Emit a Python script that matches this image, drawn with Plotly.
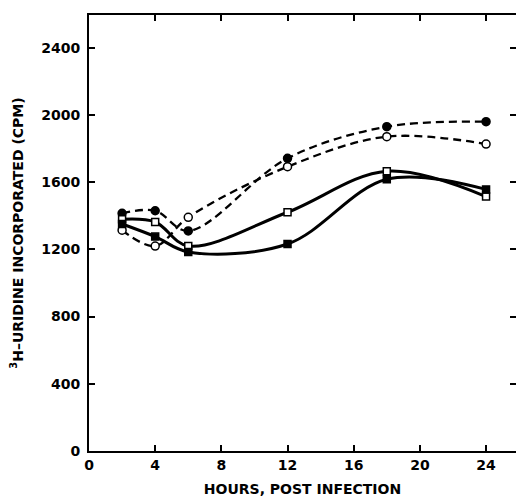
import plotly.graph_objects as go

hours = [2, 4, 6, 12, 18, 24]
filled_circle = [1415, 1430, 1310, 1742, 1930, 1960]
open_circle = [1314, 1220, 1391, 1692, 1871, 1827]
open_square = [1379, 1363, 1220, 1421, 1665, 1514]
filled_square = [1351, 1276, 1185, 1232, 1617, 1557]

x_ticks = [0, 4, 8, 12, 16, 20, 24]
y_ticks = [0, 400, 800, 1200, 1600, 2000, 2400]

FONT = "DejaVu Sans"

fig = go.Figure()

def add(y, dash, width, symbol, fill, size):
    fig.add_trace(go.Scatter(
        x=hours, y=y, mode="lines+markers",
        line=dict(color="black", width=width, dash=dash, shape="spline", smoothing=1.0),
        marker=dict(symbol=symbol, size=size, color=fill, line=dict(color="black", width=1.5)),
        showlegend=False,
    ))

add(filled_circle, "8px,5px", 2.3, "circle", "black", 8)
add(open_circle, "8px,5px", 2.3, "circle", "white", 8)
add(open_square, "solid", 3, "square", "white", 7)
add(filled_square, "solid", 3, "square", "black", 7)

# invisible trace on secondary y axis (right ticks)
fig.add_trace(go.Scatter(x=[None], y=[None], yaxis="y2", showlegend=False))

yr = [0, 2595]
fig.update_layout(
    width=516, height=497,
    margin=dict(l=89, r=0, t=15, b=46),
    paper_bgcolor="white", plot_bgcolor="white",
    font=dict(family=FONT, color="black"),
    xaxis=dict(
        range=[0, 25.81], tickvals=x_ticks, ticktext=[str(v) for v in x_ticks],
        showline=True, linecolor="black", linewidth=2, mirror="ticks",
        ticks="inside", ticklen=6, tickwidth=2, tickcolor="black",
        showgrid=False, zeroline=False, automargin=False,
        tickfont=dict(family=FONT, size=14, weight="bold"),
        title=dict(text="HOURS, POST INFECTION", standoff=14,
                   font=dict(family=FONT, size=14, weight="bold")),
    ),
    yaxis=dict(
        range=yr, tickvals=y_ticks, ticktext=[str(v) for v in y_ticks],
        showline=True, linecolor="black", linewidth=2,
        ticks="inside", ticklen=6, tickwidth=2, tickcolor="black",
        showgrid=False, zeroline=False, automargin=False,
        tickfont=dict(family=FONT, size=14, weight="bold"),
        ticklabelstandoff=4,
        title=dict(text="<sup>3</sup>H–URIDINE INCORPORATED (CPM)", standoff=14,
                   font=dict(family=FONT, size=14, weight="bold")),
    ),
    yaxis2=dict(
        overlaying="y", side="right", range=yr, tickvals=y_ticks,
        showticklabels=False, showline=False, showgrid=False, zeroline=False,
        ticks="inside", ticklen=6, tickwidth=2, tickcolor="black", automargin=False,
    ),
)

fig.write_html("out.html")
